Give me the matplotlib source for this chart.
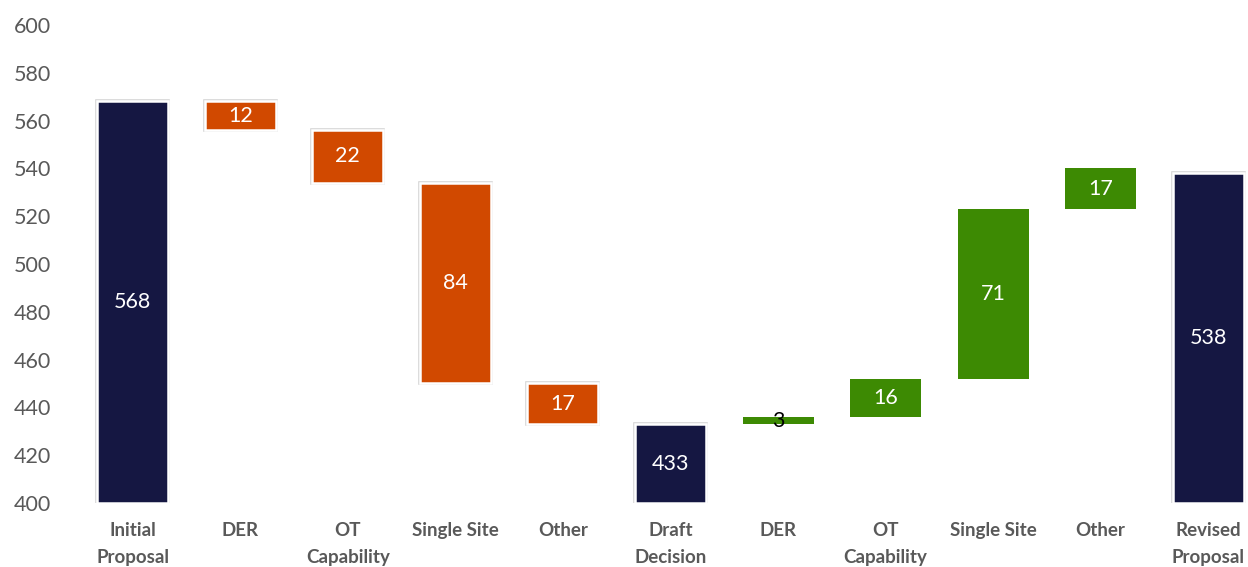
import numpy as np
import matplotlib.pyplot as plt

# waterfall: initial proposal -> draft decision -> revised proposal
labels = ["Initial\nProposal", "DER", "OT\nCapability", "Single Site", "Other",
          "Draft\nDecision", "DER", "OT\nCapability", "Single Site", "Other",
          "Revised\nProposal"]
kinds = ["total", "down", "down", "down", "down",
         "total", "up", "up", "up", "up", "total"]
values = [568, 12, 22, 84, 17, 433, 3, 16, 71, 17, 538]

colors = {"total": "#151742", "down": "#D14900", "up": "#3D8A03"}
base_y = 400

plt.rcParams["font.family"] = ["Lato", "DejaVu Sans"]

fig = plt.figure(figsize=(12.48, 5.67), dpi=100)
ax = fig.add_axes([0.0633, 0.1129, 0.9367, 0.8431])

level = 0
x = np.arange(len(values))
for i, (k, v) in enumerate(zip(kinds, values)):
    if k == "total":
        bottom, height = base_y, v - base_y
        level = v
    elif k == "down":
        level -= v
        bottom, height = level, v
    else:
        bottom, height = level, v
        level += v
    c = colors[k]
    if k != "up":
        # thin grey outline with a white gap around the fill
        ax.bar(i, height, bottom=bottom, width=0.66, color=c,
               edgecolor="#d4d4d4", linewidth=2.6, zorder=2)
        ax.bar(i, height, bottom=bottom, width=0.66, color=c,
               edgecolor="white", linewidth=1.8, zorder=3)
    else:
        ax.bar(i, height, bottom=bottom, width=0.66, color=c,
               linewidth=0, zorder=3)
    txt_col = "black" if v < 5 else "white"
    ax.text(i, bottom + height / 2, str(v), ha="center", va="center",
            fontsize=15.5, color=txt_col, zorder=4)

ax.set_ylim(400, 600)
ax.set_yticks(np.arange(400, 601, 20))
ax.set_xlim(-0.5, 10.37)
ax.set_xticks(x)
ax.set_xticklabels(labels, fontsize=13.5, fontweight="bold", color="#595959",
                   linespacing=1.65, va="top")
ax.tick_params(axis="x", length=0, pad=14)
ax.tick_params(axis="y", length=0, labelsize=15.5, labelcolor="#595959", pad=20)
for s in ax.spines.values():
    s.set_visible(False)

fig.savefig("out.png", dpi=100)
